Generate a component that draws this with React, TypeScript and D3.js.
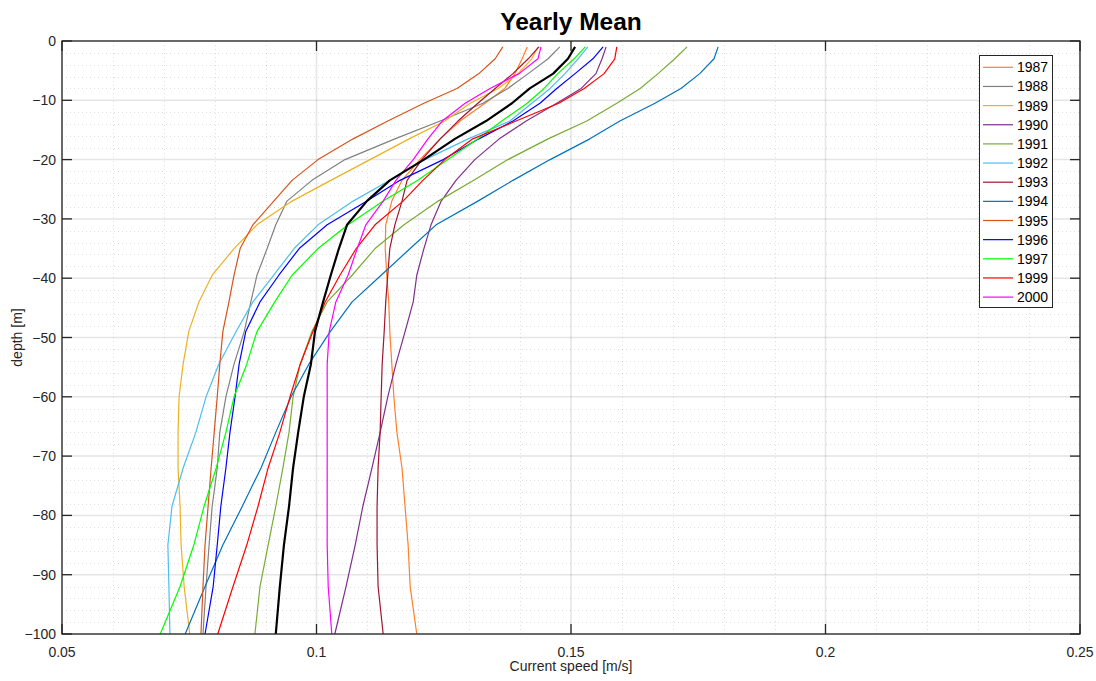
import React from "react";
import * as d3 from "d3";

// Depth levels shared by every yearly profile (m, negative downwards)
const depths = [-1, -3, -5.5, -8, -10.5, -13.5, -16.5, -20, -23.5, -27, -31, -35, -39.5, -44, -49, -54.5, -60, -66, -72, -78.5, -85, -92, -100];

// Yearly mean current speed profiles (m/s), one value per depth level
const y1987 = [0.1414, 0.1404, 0.1390, 0.1370, 0.1331, 0.1282, 0.1243, 0.1203, 0.1168, 0.1148, 0.1136, 0.1135, 0.1138, 0.1142, 0.1144, 0.1148, 0.1152, 0.1158, 0.1168, 0.1174, 0.1180, 0.1184, 0.1197];
const y1988 = [0.1478, 0.1455, 0.1416, 0.1376, 0.1327, 0.1243, 0.1154, 0.1056, 0.0991, 0.0942, 0.0920, 0.0903, 0.0883, 0.0871, 0.0858, 0.0838, 0.0822, 0.0810, 0.0805, 0.0795, 0.0789, 0.0783, 0.0777];
const y1989 = [0.1435, 0.1423, 0.1396, 0.1357, 0.1302, 0.1252, 0.1182, 0.1105, 0.1028, 0.0952, 0.0883, 0.0838, 0.0795, 0.0769, 0.0749, 0.0738, 0.0730, 0.0728, 0.0728, 0.0732, 0.0734, 0.0740, 0.0751];
const y1990 = [0.1569, 0.1561, 0.1549, 0.1520, 0.1472, 0.1412, 0.1359, 0.1311, 0.1274, 0.1245, 0.1225, 0.1211, 0.1197, 0.1190, 0.1174, 0.1156, 0.1140, 0.1125, 0.1109, 0.1091, 0.1076, 0.1058, 0.1036];
const y1991 = [0.1728, 0.1704, 0.1671, 0.1636, 0.1590, 0.1531, 0.1455, 0.1376, 0.1309, 0.1239, 0.1172, 0.1115, 0.1070, 0.1021, 0.0991, 0.0968, 0.0954, 0.0946, 0.0934, 0.0920, 0.0905, 0.0889, 0.0879];
const y1992 = [0.1533, 0.1514, 0.1488, 0.1459, 0.1423, 0.1380, 0.1298, 0.1213, 0.1144, 0.1072, 0.1003, 0.0956, 0.0916, 0.0875, 0.0842, 0.0808, 0.0783, 0.0763, 0.0738, 0.0716, 0.0708, 0.0710, 0.0712];
const y1993 = [0.1437, 0.1416, 0.1386, 0.1351, 0.1317, 0.1278, 0.1243, 0.1207, 0.1178, 0.1168, 0.1154, 0.1144, 0.1140, 0.1136, 0.1133, 0.1129, 0.1127, 0.1125, 0.1121, 0.1119, 0.1119, 0.1121, 0.1131];
const y1994 = [0.1789, 0.1781, 0.1753, 0.1716, 0.1665, 0.1596, 0.1537, 0.1459, 0.1386, 0.1317, 0.1235, 0.1184, 0.1127, 0.1070, 0.1027, 0.0985, 0.0950, 0.0920, 0.0891, 0.0854, 0.0816, 0.0781, 0.0742];
const y1995 = [0.1366, 0.1351, 0.1319, 0.1276, 0.1211, 0.1140, 0.1072, 0.1003, 0.0952, 0.0916, 0.0875, 0.0850, 0.0838, 0.0828, 0.0816, 0.0810, 0.0805, 0.0799, 0.0793, 0.0787, 0.0781, 0.0777, 0.0773];
const y1996 = [0.1563, 0.1543, 0.1508, 0.1472, 0.1439, 0.1386, 0.1319, 0.1249, 0.1164, 0.1099, 0.1021, 0.0966, 0.0926, 0.0889, 0.0861, 0.0848, 0.0840, 0.0830, 0.0822, 0.0812, 0.0805, 0.0797, 0.0781];
const y1997 = [0.1528, 0.1506, 0.1474, 0.1447, 0.1414, 0.1364, 0.1317, 0.1258, 0.1199, 0.1131, 0.1062, 0.1003, 0.0952, 0.0918, 0.0883, 0.0863, 0.0838, 0.0822, 0.0803, 0.0779, 0.0759, 0.0732, 0.0693];
const y1999 = [0.1590, 0.1586, 0.1565, 0.1526, 0.1476, 0.1392, 0.1307, 0.1252, 0.1209, 0.1170, 0.1115, 0.1078, 0.1046, 0.1017, 0.0993, 0.0968, 0.0948, 0.0928, 0.0905, 0.0885, 0.0863, 0.0836, 0.0806];
const y2000 = [0.1441, 0.1435, 0.1398, 0.1341, 0.1292, 0.1247, 0.1219, 0.1190, 0.1156, 0.1131, 0.1097, 0.1080, 0.1062, 0.1038, 0.1025, 0.1021, 0.1021, 0.1021, 0.1021, 0.1021, 0.1021, 0.1023, 0.1030];
// Mean over all years
const yMean = [0.1508, 0.1494, 0.1465, 0.1419, 0.1384, 0.1333, 0.1272, 0.1211, 0.1144, 0.1099, 0.1060, 0.1044, 0.1028, 0.1013, 0.0997, 0.0989, 0.0975, 0.0964, 0.0954, 0.0946, 0.0936, 0.0928, 0.0920];

const years = ["1987", "1988", "1989", "1990", "1991", "1992", "1993", "1994", "1995", "1996", "1997", "1999", "2000"];
const yearValues = [y1987, y1988, y1989, y1990, y1991, y1992, y1993, y1994, y1995, y1996, y1997, y1999, y2000];
const yearColors = ["#FF7F2A", "#808080", "#EDB120", "#7E2F8E", "#77AC30", "#4DBEEE", "#A2142F", "#0072BD", "#D95319", "#0000FF", "#00FF00", "#FF0000", "#FF00FF"];

const xTicks = [0.05, 0.1, 0.15, 0.2, 0.25];
const yTicks = [0, -10, -20, -30, -40, -50, -60, -70, -80, -90, -100];

const W = 1096;
const H = 681;
const left = 62;
const right = 1080;
const top = 41;
const bottom = 634;
const axisColor = "#262626";
const font = "'Liberation Sans', Arial, Helvetica, sans-serif";

export default function App() {
  const x = d3.scaleLinear().domain([0.05, 0.25]).range([left, right]);
  const y = d3.scaleLinear().domain([-100, 0]).range([bottom, top]);

  const line = d3
    .line<number>()
    .x((v) => x(v))
    .y((_, i) => y(depths[i]));

  const xMinor = d3.range(0.05, 0.2501, 0.01).map((v) => +v.toFixed(3)).filter((v) => !xTicks.some((t) => Math.abs(t - v) < 1e-9));
  const yMinor = d3.range(-100, 0.001, 2).filter((v) => v % 10 !== 0);

  const fmtX = (v: number) => String(+v.toFixed(2));
  const fmtY = d3.format("d");

  const tickLen = 10;
  const legX = 979;
  const legY = 55;
  const legW = 73;
  const rowH = 19.15;
  const legH = 252;

  return (
    <svg width={W} height={H} style={{ position: "absolute", left: 0, top: 0, background: "#ffffff" }} fontFamily={font}>
      <rect x={0} y={0} width={W} height={H} fill="#ffffff" />
      {/* minor grid */}
      <g stroke={axisColor} strokeOpacity={0.15} strokeWidth={1} strokeDasharray="1 3">
        {xMinor.map((v) => (
          <line key={"xm" + v} x1={Math.round(x(v)) + 0.5} x2={Math.round(x(v)) + 0.5} y1={top} y2={bottom} />
        ))}
        {yMinor.map((v) => (
          <line key={"ym" + v} x1={left} x2={right} y1={Math.round(y(v)) + 0.5} y2={Math.round(y(v)) + 0.5} />
        ))}
      </g>
      {/* major grid */}
      <g stroke={axisColor} strokeOpacity={0.12} strokeWidth={1.5}>
        {xTicks.map((v) => (
          <line key={"xg" + v} x1={x(v)} x2={x(v)} y1={top} y2={bottom} />
        ))}
        {yTicks.map((v) => (
          <line key={"yg" + v} x1={left} x2={right} y1={y(v)} y2={y(v)} />
        ))}
      </g>
      {/* yearly profiles */}
      <g fill="none" strokeLinejoin="round">
        {yearValues.map((vals, i) => (
          <path key={years[i]} d={line(vals) || ""} stroke={yearColors[i]} strokeWidth={1.2} />
        ))}
        <path d={line(yMean) || ""} stroke="#000000" strokeWidth={2.2} />
      </g>
      {/* axes box and ticks */}
      <g stroke={axisColor} strokeWidth={1.3} fill="none">
        <rect x={left} y={top} width={right - left} height={bottom - top} />
        {xTicks.map((v) => (
          <g key={"xt" + v}>
            <line x1={x(v)} x2={x(v)} y1={bottom} y2={bottom - tickLen} />
            <line x1={x(v)} x2={x(v)} y1={top} y2={top + tickLen} />
          </g>
        ))}
        {yTicks.map((v) => (
          <g key={"yt" + v}>
            <line x1={left} x2={left + tickLen} y1={y(v)} y2={y(v)} />
            <line x1={right} x2={right - tickLen} y1={y(v)} y2={y(v)} />
          </g>
        ))}
      </g>
      {/* tick labels */}
      <g fill={axisColor} fontSize={14}>
        {xTicks.map((v) => (
          <text key={"xl" + v} x={x(v)} y={bottom + 23} textAnchor="middle">
            {fmtX(v)}
          </text>
        ))}
        {yTicks.map((v) => (
          <text key={"yl" + v} x={left - 6} y={y(v) + 5} textAnchor="end">
            {fmtY(v)}
          </text>
        ))}
      </g>
      {/* axis labels and title */}
      <text x={(left + right) / 2} y={671} textAnchor="middle" fontSize={14} fill={axisColor}>
        Current speed [m/s]
      </text>
      <text transform={`translate(22, ${(top + bottom) / 2}) rotate(-90)`} textAnchor="middle" fontSize={14} fill={axisColor}>
        depth [m]
      </text>
      <text x={(left + right) / 2} y={30} textAnchor="middle" fontSize={24.5} fontWeight="bold" fill="#000000">
        Yearly Mean
      </text>
      {/* legend */}
      <g>
        <rect x={legX + 0.5} y={legY + 0.5} width={legW} height={legH} fill="#ffffff" stroke={axisColor} strokeWidth={1} />
        {years.map((yr, i) => {
          const cy = legY + 12.3 + i * rowH;
          return (
            <g key={"lg" + yr}>
              <line x1={legX + 4} x2={legX + 34} y1={cy} y2={cy} stroke={yearColors[i]} strokeWidth={1.2} />
              <text x={legX + 38} y={cy + 5} fontSize={14} fill="#000000">
                {yr}
              </text>
            </g>
          );
        })}
      </g>
    </svg>
  );
}
